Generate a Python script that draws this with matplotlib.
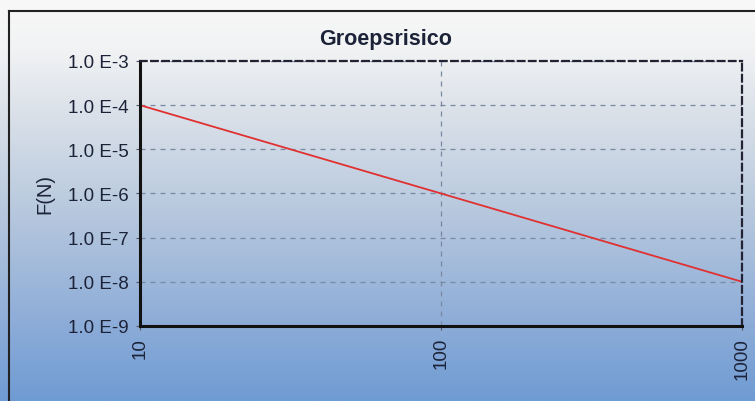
import numpy as np
import matplotlib
matplotlib.use("Agg")
import matplotlib.pyplot as plt
from matplotlib.colors import LinearSegmentedColormap

plt.rcParams['font.family'] = ['Liberation Sans', 'DejaVu Sans']

# Data
n_values = [10, 1000]
f_values = [1e-4, 1e-8]
y_ticks = [1e-3, 1e-4, 1e-5, 1e-6, 1e-7, 1e-8, 1e-9]
y_tick_labels = ["1.0 E-3", "1.0 E-4", "1.0 E-5", "1.0 E-6", "1.0 E-7", "1.0 E-8", "1.0 E-9"]
x_ticks = [10, 100, 1000]
x_tick_labels = ["10", "100", "1000"]
title = "Groepsrisico"
ylabel = "F(N)"

fig = plt.figure(figsize=(7.55, 4.02), dpi=100)

# gradient background
bg = fig.add_axes([0, 0, 1, 1], zorder=0)
cmap = LinearSegmentedColormap.from_list(
    "bg", [(0.0, "#f8f8f8"), (0.12, "#f2f3f4"), (0.3, "#d8dfe8"), (0.55, "#b4c6dd"), (0.8, "#8eadd8"), (1.0, "#6f9bd3")])
grad = np.linspace(0, 1, 256).reshape(-1, 1)
bg.imshow(grad, aspect="auto", cmap=cmap, extent=[0, 1, 0, 1], origin="upper")
bg.plot([0.012, 0.012], [0, 0.97], color="#222222", lw=1.5)
bg.plot([0.012, 1.0], [0.97, 0.97], color="#222222", lw=1.5)
bg.set_xlim(0, 1)
bg.set_ylim(0, 1)
bg.axis("off")

ax = fig.add_axes([0.1854, 0.1866, 0.7976, 0.6592], zorder=1)
ax.patch.set_alpha(0)
ax.set_xscale("log")
ax.set_yscale("log")
ax.plot(n_values, f_values, color="#e03030", lw=1.3)
ax.set_xlim(10, 1000)
ax.set_ylim(1e-9, 1e-3)
ax.set_yticks(y_ticks)
ax.set_yticklabels(y_tick_labels)
ax.set_xticks(x_ticks)
ax.set_xticklabels(x_tick_labels, rotation=90)
ax.minorticks_off()
ax.tick_params(axis="both", labelsize=13.5, colors="#555566", length=3, pad=5, labelcolor="#1c2338")
ax.grid(True, which="major", linestyle=(0, (4, 4)), color="#7888a0", lw=0.9)
for s in ["left", "bottom"]:
    ax.spines[s].set_linewidth(2.2)
    ax.spines[s].set_color("#111111")
for s in ["top", "right"]:
    ax.spines[s].set_linestyle((0, (3, 2)))
    ax.spines[s].set_linewidth(1.6)
    ax.spines[s].set_color("#222233")
fig.text(386 / 755, 1 - 40 / 402, title, fontsize=15.5, fontweight="bold",
         color="#1c2338", ha="center", va="center", zorder=2)
ax.set_ylabel(ylabel, fontsize=14.5, color="#1c2338", labelpad=10)

fig.savefig("out.png", dpi=100)
